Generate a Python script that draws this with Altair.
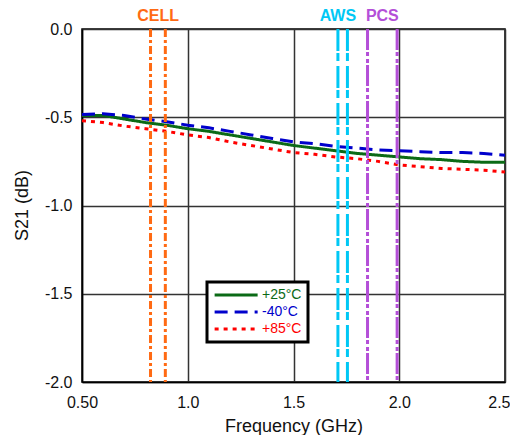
import altair as alt
import pandas as pd

# ---- data ----
freq = [0.5, 0.6, 0.7, 0.8, 0.9, 1.0, 1.1, 1.2, 1.3, 1.4, 1.5,
        1.6, 1.7, 1.8, 1.9, 2.0, 2.1, 2.2, 2.3, 2.4, 2.5]
s21_p25 = [-0.49, -0.49, -0.51, -0.53, -0.545, -0.565, -0.58, -0.60, -0.62, -0.64, -0.66,
           -0.675, -0.69, -0.705, -0.715, -0.725, -0.735, -0.74, -0.75, -0.755, -0.755]
s21_m40 = [-0.485, -0.48, -0.49, -0.51, -0.525, -0.545, -0.56, -0.58, -0.60, -0.62, -0.64,
           -0.65, -0.665, -0.675, -0.685, -0.69, -0.695, -0.70, -0.70, -0.705, -0.715]
s21_p85 = [-0.52, -0.53, -0.55, -0.565, -0.58, -0.60, -0.615, -0.64, -0.66, -0.68, -0.70,
           -0.71, -0.725, -0.735, -0.75, -0.77, -0.78, -0.79, -0.795, -0.80, -0.81]

series_names = ["+25°C", "-40°C", "+85°C"]
series_colors = ["#0b6a16", "#0000cc", "#ff0000"]
series_dash = [[1, 0], [13, 7], [4, 5]]

band_names = ["CELL", "AWS", "PCS"]
band_lo = [0.824, 1.71, 1.85]
band_hi = [0.894, 1.755, 1.99]
band_label_x = [0.86, 1.71, 1.92]
band_colors = ["#ff6a13", "#00c8f5", "#b44fd8"]
band_dash = [[8, 3, 3, 3], [22, 2, 8, 5], [21, 2, 4, 3, 4, 2]]

x_ticks = [0.5, 1.0, 1.5, 2.0, 2.5]
y_ticks = [0.0, -0.5, -1.0, -1.5, -2.0]

FONT = "Liberation Sans"

rows = []
for name, vals in zip(series_names, [s21_p25, s21_m40, s21_p85]):
    for f, v in zip(freq, vals):
        rows.append({"freq": f, "s21": v, "series": name})
df = pd.DataFrame(rows)

x_scale = alt.Scale(domain=[0.5, 2.5], nice=False, zero=False)
y_scale = alt.Scale(domain=[-2.0, 0.0], nice=False, zero=False)

label_color_expr = " : ".join(
    [f"datum.label == '{n}' ? '{c}'" for n, c in zip(series_names[:-1], series_colors[:-1])]
) + f" : '{series_colors[-1]}'"

legend = alt.Legend(
    title=None, orient="none", legendX=125, legendY=253,
    fillColor="white", strokeColor="black", padding=6,
    symbolType="M-1,0H7", symbolStrokeWidth=3, symbolSize=115.6,
    labelFont=FONT, labelFontSize=14, labelOffset=35,
    labelColor=alt.ExprRef(label_color_expr), rowPadding=3,
)

lines = alt.Chart(df).mark_line(strokeWidth=3).encode(
    x=alt.X("freq:Q", scale=x_scale, axis=alt.Axis(
        values=x_ticks, title="Frequency (GHz)",
        labelExpr="datum.value == 0.5 ? '0.50' : format(datum.value, '.1f')",
        labelFlush=False,
        labelAlign=alt.ExprRef("datum.value >= 2.5 ? 'right' : 'center'"),
        labelOffset=alt.ExprRef("datum.value >= 2.5 ? 5 : 0"),
        grid=True, gridColor="#333333", gridWidth=1.5,
        ticks=False, labelPadding=12, labelFont=FONT, labelFontSize=16, labelColor="#111",
        titleFont=FONT, titleFontSize=18, titleFontWeight="normal", titleColor="#111",
        titleY=49, titleBaseline="alphabetic",
        domainColor="black", domainWidth=1.5,
    )),
    y=alt.Y("s21:Q", scale=y_scale, axis=alt.Axis(
        values=y_ticks, title="S21 (dB)",
        labelExpr="datum.value == 0 ? '0.0' : '-' + format(abs(datum.value), '.1f')",
        grid=True, gridColor="#333333", gridWidth=1.5,
        ticks=False, labelPadding=10, labelFont=FONT, labelFontSize=16, labelColor="#111",
        titleFont=FONT, titleFontSize=18, titleFontWeight="normal", titleColor="#111",
        titleX=-60, titleY=176, titleAngle=-90, titleBaseline="middle", titleAlign="center",
        domainColor="black", domainWidth=1.5,
    )),
    color=alt.Color("series:N", scale=alt.Scale(domain=series_names, range=series_colors),
                    sort=series_names, legend=legend),
    strokeDash=alt.StrokeDash("series:N", scale=alt.Scale(domain=series_names, range=series_dash),
                              sort=series_names, legend=legend),
)

layers = [lines]
bdf_all = pd.DataFrame({"band": band_names, "lo": band_lo, "hi": band_hi, "lx": band_label_x})
for name, col, dash in zip(band_names, band_colors, band_dash):
    sub = bdf_all[bdf_all["band"] == name]
    edges = pd.DataFrame({"f": list(sub["lo"]) + list(sub["hi"])})
    layers.append(
        alt.Chart(edges).mark_rule(color=col, strokeWidth=3, strokeDash=dash).encode(
            x=alt.X("f:Q", scale=x_scale)
        )
    )
    layers.append(
        alt.Chart(sub).mark_text(color=col, font=FONT, fontSize=16, fontWeight="bold",
                                 baseline="alphabetic", align="center").encode(
            x=alt.X("lx:Q", scale=x_scale),
            y=alt.value(-8),
            text="band:N",
        )
    )

chart = alt.layer(*layers).properties(
    width=423, height=353,
    autosize=alt.AutoSizeParams(type="none"),
    padding={"left": 74, "top": 21, "right": 5, "bottom": 53},
).configure_view(stroke="black", strokeWidth=1.5).configure_legend(strokeWidth=3)

chart.save("out.html", embed_options={"renderer": "svg", "actions": False})
